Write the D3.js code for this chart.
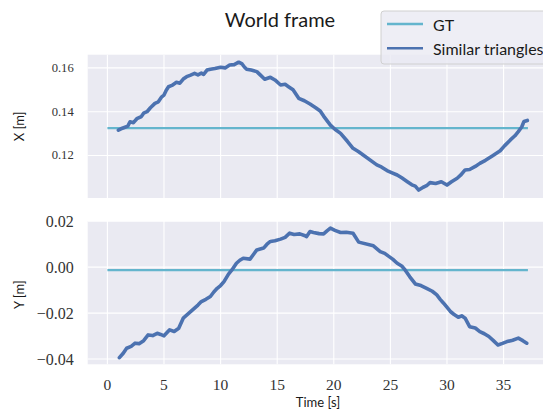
<!DOCTYPE html>
<html>
<head>
<meta charset="utf-8">
<script src="https://cdn.jsdelivr.net/npm/d3@7"></script>
<style>
  html, body { margin: 0; padding: 0; background: #ffffff; }
  svg { display: block; }
  .sans { font-family: "Lato", "Open Sans", sans-serif; fill: #1a1a1a; }
  .serif { font-family: "Liberation Serif", "DejaVu Serif", serif; fill: #333333; }
</style>
</head>
<body>
<svg id="chart" width="543" height="411"></svg>
<script>
// Ground truth: constant position over the whole recording
const gtTimes = [0, 37.15];
const gtX = [0.1325, 0.1325];
const gtY = [-0.0013, -0.0013];

// Similar-triangles estimate, X component
const estTimesX = [0.97, 1.2, 1.5, 1.8, 2.0, 2.3, 2.6, 3.0, 3.2, 3.5, 3.8, 4.2, 4.5, 4.8, 5.0, 5.2, 5.4, 5.7, 6.1, 6.4,
  6.7, 7.0, 7.3, 7.7, 8.0, 8.3, 8.5, 8.8, 9.1, 9.5, 10.0, 10.4, 10.8, 11.2, 11.6, 11.9, 12.1, 12.3, 12.7, 13.2,
  13.5, 13.9, 14.4, 14.8, 15.3, 15.7, 16.0, 16.4, 16.9, 17.4, 17.9, 18.4, 18.8, 19.1, 19.7, 20.1, 20.6, 21.2, 21.7, 22.2,
  23.8, 24.2, 24.7, 25.1, 25.6, 26.0, 26.5, 26.9, 27.2, 27.5, 27.9, 28.2, 28.5, 29.0, 29.5, 30.0, 30.4, 30.9, 31.2, 31.6,
  32.0, 32.5, 32.9, 33.4, 34.0, 34.7, 35.1, 35.6, 36.0, 36.3, 36.6, 36.8, 37.1];
const estX = [0.1316, 0.1322, 0.1328, 0.1334, 0.1354, 0.1350, 0.1368, 0.1378, 0.1393, 0.1400, 0.1418, 0.1438, 0.1445, 0.1468, 0.1476, 0.1498, 0.1514, 0.1520, 0.1534, 0.1530,
  0.1549, 0.1560, 0.1566, 0.1575, 0.1568, 0.1576, 0.1570, 0.1590, 0.1594, 0.1597, 0.1603, 0.1600, 0.1613, 0.1615, 0.1626, 0.1618, 0.1604, 0.1594, 0.1590, 0.1583,
  0.1568, 0.1548, 0.1557, 0.1545, 0.1522, 0.1525, 0.1514, 0.1500, 0.1461, 0.1450, 0.1435, 0.1418, 0.1403, 0.1380, 0.1339, 0.1320, 0.1301, 0.1265, 0.1233, 0.1217,
  0.1157, 0.1148, 0.1131, 0.1122, 0.1111, 0.1098, 0.1080, 0.1066, 0.1060, 0.1042, 0.1055, 0.1062, 0.1076, 0.1072, 0.1080, 0.1065, 0.1080, 0.1096, 0.1110, 0.1134,
  0.1136, 0.1150, 0.1164, 0.1178, 0.1198, 0.1222, 0.1245, 0.1271, 0.1290, 0.1309, 0.1330, 0.1355, 0.1360];

// Similar-triangles estimate, Y component
const estTimesY = [1.06, 1.4, 1.7, 2.1, 2.45, 2.8, 3.2, 3.6, 4.0, 4.4, 4.7, 5.0, 5.5, 5.9, 6.3, 6.7, 7.1, 7.6, 8.0, 8.3,
  8.7, 9.1, 9.4, 9.7, 10.0, 10.3, 10.7, 11.0, 11.4, 11.7, 12.0, 12.6, 12.9, 13.2, 13.8, 14.1, 14.4, 14.8, 15.3, 15.7,
  16.1, 16.5, 17.0, 17.4, 17.6, 17.9, 18.2, 18.7, 19.1, 19.4, 19.7, 20.1, 20.6, 21.1, 21.7, 22.2, 23.5, 24.1, 24.5, 24.8,
  25.2, 25.6, 26.0, 26.3, 26.7, 27.2, 27.7, 28.2, 28.7, 29.1, 29.4, 29.7, 30.3, 30.6, 31.0, 31.3, 31.6, 32.0, 32.5, 32.9,
  33.3, 33.7, 34.1, 34.5, 34.9, 35.3, 35.8, 36.3, 36.7, 37.05];
const estY = [-0.0394, -0.0375, -0.0353, -0.0345, -0.0331, -0.0333, -0.0320, -0.0295, -0.0298, -0.0288, -0.0293, -0.0299, -0.0273, -0.0280, -0.0266, -0.0222, -0.0205, -0.0183, -0.0165, -0.0150,
  -0.0140, -0.0128, -0.0108, -0.0092, -0.0080, -0.0063, -0.0030, -0.0012, 0.0017, 0.0030, 0.0039, 0.0035, 0.0055, 0.0075, 0.0083, 0.0100, 0.0112, 0.0115, 0.0122, 0.0130,
  0.0148, 0.0142, 0.0145, 0.0138, 0.0133, 0.0155, 0.0151, 0.0146, 0.0145, 0.0158, 0.0170, 0.0160, 0.0151, 0.0152, 0.0148, 0.0109, 0.0093, 0.0068, 0.0060, 0.0049,
  0.0035, 0.0017, 0.0005, -0.0012, -0.0041, -0.0073, -0.0080, -0.0092, -0.0105, -0.0121, -0.0140, -0.0157, -0.0193, -0.0205, -0.0218, -0.0212, -0.0222, -0.0259, -0.0265, -0.0281,
  -0.0290, -0.0302, -0.0320, -0.0339, -0.0332, -0.0324, -0.0318, -0.0309, -0.0320, -0.0331];

const timeTicks = [0, 5, 10, 15, 20, 25, 30, 35];
const xTicks = [0.12, 0.14, 0.16];
const yTicks = [-0.04, -0.02, 0.00, 0.02];

const seriesNames = ["GT", "Similar triangles"];
const seriesColors = ["#64b5cd", "#4c72b0"];

const svg = d3.select("#chart");
const bg = "#eaeaf2";

const t = d3.scaleLinear().domain([-1.74, 39.1]).range([87.7, 550]);

const panels = [
  { top: 54.7, bottom: 198, domain: [0.10059, 0.16603], ticks: xTicks, fmt: d3.format(".2f"),
    label: "X [m]", tickSize: 12.6, gt: gtX, estT: estTimesX, est: estX },
  { top: 221, bottom: 364.3, domain: [-0.0423, 0.0201], ticks: yTicks,
    fmt: v => (v < 0 ? "\u2212" : "") + d3.format(".2f")(Math.abs(v)),
    label: "Y [m]", tickSize: 16, gt: gtY, estT: estTimesY, est: estY }
];

panels.forEach((p, i) => {
  const y = d3.scaleLinear().domain(p.domain).range([p.bottom, p.top]);
  const g = svg.append("g");

  g.append("rect")
    .attr("x", t.range()[0]).attr("y", p.top)
    .attr("width", t.range()[1] - t.range()[0]).attr("height", p.bottom - p.top)
    .attr("fill", bg);

  // grid
  g.selectAll(".vgrid").data(timeTicks).enter().append("line")
    .attr("x1", d => t(d)).attr("x2", d => t(d))
    .attr("y1", p.top).attr("y2", p.bottom)
    .attr("stroke", "#ffffff").attr("stroke-width", 1.1);
  g.selectAll(".hgrid").data(p.ticks).enter().append("line")
    .attr("x1", t.range()[0]).attr("x2", t.range()[1])
    .attr("y1", d => y(d)).attr("y2", d => y(d))
    .attr("stroke", "#ffffff").attr("stroke-width", 1.1);

  // y tick labels
  g.selectAll(".ylab").data(p.ticks).enter().append("text")
    .attr("class", "serif")
    .attr("x", t.range()[0] - 14).attr("y", d => y(d))
    .attr("text-anchor", "end").attr("dominant-baseline", "central")
    .style("font-size", p.tickSize + "px")
    .text(p.fmt);

  // axis label
  g.append("text").attr("class", "sans")
    .attr("transform", `translate(${24},${(p.top + p.bottom) / 2 + (i === 0 ? 0 : 2)}) rotate(-90)`)
    .attr("text-anchor", "middle")
    .style("font-size", "13px")
    .text(p.label);

  const line = d3.line().x(d => t(d[0])).y(d => y(d[1]));

  const clipId = "clip" + i;
  svg.append("clipPath").attr("id", clipId).append("rect")
    .attr("x", t.range()[0]).attr("y", p.top)
    .attr("width", t.range()[1] - t.range()[0]).attr("height", p.bottom - p.top);

  const plot = g.append("g").attr("clip-path", `url(#${clipId})`);
  plot.append("path")
    .datum(gtTimes.map((d, k) => [d, p.gt[k]]))
    .attr("d", line).attr("fill", "none")
    .attr("stroke", seriesColors[0]).attr("stroke-width", 2.4);
  plot.append("path")
    .datum(p.estT.map((d, k) => [d, p.est[k]]))
    .attr("d", line).attr("fill", "none")
    .attr("stroke", seriesColors[1]).attr("stroke-width", 3.6)
    .attr("stroke-linejoin", "round").attr("stroke-linecap", "round");

  if (i === 1) {
    g.selectAll(".tlab").data(timeTicks).enter().append("text")
      .attr("class", "serif")
      .attr("x", d => t(d)).attr("y", 384)
      .attr("text-anchor", "middle").attr("dominant-baseline", "central")
      .style("font-size", "15.5px")
      .text(d => d);
  }
});

svg.append("text").attr("class", "sans")
  .attr("x", 318).attr("y", 407)
  .attr("text-anchor", "middle")
  .style("font-size", "13px")
  .text("Time [s]");

svg.append("text").attr("class", "sans")
  .attr("x", 280).attr("y", 27)
  .attr("text-anchor", "middle")
  .style("font-size", "20px")
  .text("World frame");

// legend
const leg = svg.append("g");
leg.append("rect")
  .attr("x", 381).attr("y", 11).attr("width", 200).attr("height", 53)
  .attr("rx", 3)
  .attr("fill", bg).attr("fill-opacity", 0.8)
  .attr("stroke", "#d0d0d0").attr("stroke-width", 1);
seriesNames.forEach((name, k) => {
  const cy = 24 + k * 24.3;
  leg.append("line")
    .attr("x1", 387).attr("x2", 423).attr("y1", cy).attr("y2", cy)
    .attr("stroke", seriesColors[k]).attr("stroke-width", 2.4);
  leg.append("text").attr("class", "sans")
    .attr("x", 433).attr("y", cy)
    .attr("dominant-baseline", "central")
    .style("font-size", "16px")
    .text(name);
});
</script>
</body>
</html>
